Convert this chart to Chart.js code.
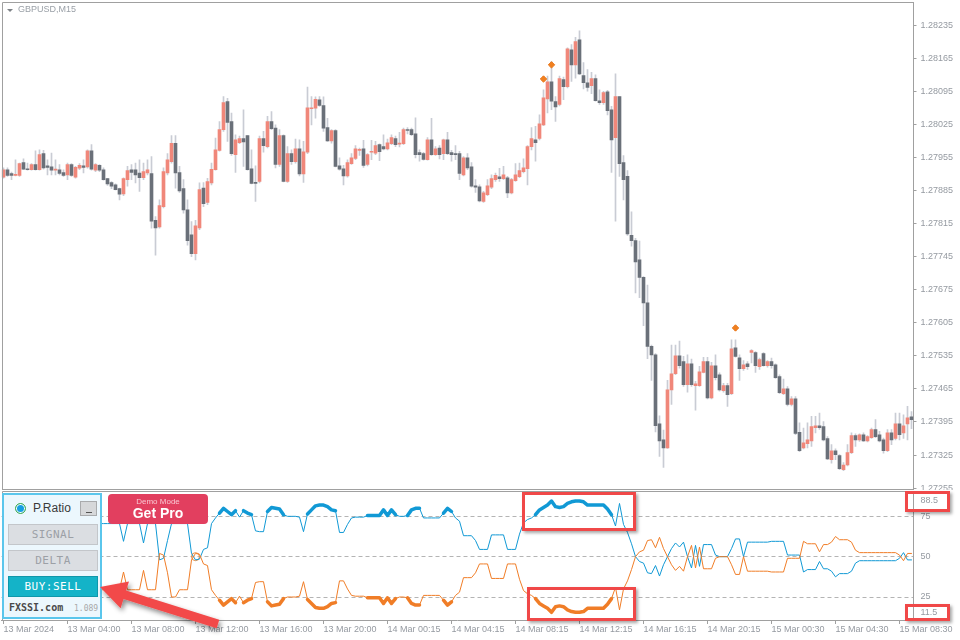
<!DOCTYPE html>
<html>
<head>
<meta charset="utf-8">
<title>GBPUSD,M15</title>
<script src="https://cdn.jsdelivr.net/npm/chart.js@4.4.1/dist/chart.umd.min.js"></script>
<style>
  html, body { margin: 0; padding: 0; background: #fff; }
  #wrap { position: relative; width: 960px; height: 640px; overflow: hidden; background: #fff;
          font-family: "Liberation Sans", Arial, sans-serif; }
  canvas { position: absolute; left: 0; }
  #main { top: 0; }
  #ind { top: 490px; background: #fff; }
  .abs { position: absolute; }
  #title { left: 18px; top: 4px; font-size: 9px; color: #9aa0a7; }
  #tri { left: 7px; top: 9px; width: 0; height: 0; border-left: 3px solid transparent;
         border-right: 3px solid transparent; border-top: 3px solid #7d8186; }
  #panel { left: 2px; top: 493px; width: 100px; height: 126px; box-sizing: border-box;
           border: 2px solid #5ac6ec; background: #ecf7fd; }
  #radio { left: 15px; top: 503px; width: 9px; height: 9px; border-radius: 50%;
           background: #159fe2; border: 1.5px solid #48b04c; box-shadow: inset 0 0 0 1px #fff; }
  #pname { left: 33px; top: 501px; font-size: 12px; color: #3a3a3a; }
  #mini { left: 80px; top: 501px; width: 17px; height: 15px; box-sizing: border-box;
          background: #d6d8da; border: 1px solid #a9abad; }
  #mini::after { content: ""; position: absolute; left: 5px; top: 10px; width: 6px; height: 1px; background: #555; }
  .btn { left: 8px; width: 90px; height: 21px; box-sizing: border-box; text-align: center;
         font: 11px "DejaVu Sans Mono", monospace; line-height: 19px; letter-spacing: 0.5px; }
  .off { background: #dbdee2; border: 1px solid #c3c6ca; color: #9ca0a6; }
  .on { background: #14b3c8; border: 1px solid #0f97aa; color: #fff; }
  #site { left: 9px; top: 602px; font: bold 10px "DejaVu Sans Mono", monospace; color: #4a4a4a; }
  #ver { left: 74px; top: 604px; font: 8px "DejaVu Sans Mono", monospace; color: #a8a8a8; }
  #pro { left: 108px; top: 494px; width: 100px; height: 30px; border-radius: 4px; background: #e23f5f;
         text-align: center; color: #fff; }
  #pro .demo { position: absolute; left: 0; right: 0; top: 3px; font-size: 8px; color: #f8c6d1; }
  #pro .get { position: absolute; left: 0; right: 0; top: 11px; font-size: 14px; font-weight: bold; }
  .mark { box-sizing: border-box; border: 3px solid #f04848; box-shadow: 2px 2px 3px rgba(0,0,0,0.35); }
</style>
</head>
<body>
<div id="wrap">
  <canvas id="main" width="960" height="500"></canvas>
  <canvas id="ind" width="960" height="150"></canvas>

  <div id="tri" class="abs"></div>
  <div id="title" class="abs">GBPUSD,M15</div>

  <div id="panel" class="abs"></div>
  <div id="radio" class="abs"></div>
  <div id="pname" class="abs">P.Ratio</div>
  <div id="mini" class="abs"></div>
  <div class="abs btn off" style="top:524px">SIGNAL</div>
  <div class="abs btn off" style="top:550px">DELTA</div>
  <div class="abs btn on" style="top:576px">BUY:SELL</div>
  <div id="site" class="abs">FXSSI.com</div>
  <div id="ver" class="abs">1.089</div>

  <div id="pro" class="abs"><div class="demo">Demo Mode</div><div class="get">Get Pro</div></div>

  <div class="abs mark" style="left:522px;top:492px;width:114px;height:39px"></div>
  <div class="abs mark" style="left:527px;top:587px;width:109px;height:34px"></div>
  <div class="abs mark" style="left:905px;top:491px;width:45px;height:21px"></div>
  <div class="abs mark" style="left:905px;top:604px;width:45px;height:17px"></div>

  <svg class="abs" style="left:0;top:0" width="960" height="640">
    <defs>
      <filter id="shadow" x="-20%" y="-20%" width="140%" height="160%">
        <feDropShadow dx="2" dy="3" stdDeviation="2.5" flood-color="#000" flood-opacity="0.45"/>
      </filter>
    </defs>
    <polygon filter="url(#shadow)" fill="#f24a4a"
      points="100,587 129,581.4 126.1,590.5 219.3,619.7 216.7,628.3 123.5,599.1 120.6,608.2"/>
  </svg>
</div>

<script>
// GBPUSD M15 candles
const opens = [
  1.27913,1.27929,1.27921,1.27917,1.27917,1.27944,1.27931,1.27929,1.27940,1.27929,
  1.27963,1.27937,1.27935,1.27928,1.27929,1.27923,1.27918,1.27940,1.27913,1.27932,
  1.27937,1.27935,1.27969,1.27928,1.27938,1.27929,1.27910,1.27902,1.27897,1.27889,
  1.27878,1.27908,1.27929,1.27929,1.27922,1.27912,1.27922,1.27921,1.27822,1.27808,
  1.27851,1.27922,1.27946,1.27985,1.27923,1.27889,1.27844,1.27791,1.27751,1.27806,
  1.27890,1.27860,1.27901,1.27929,1.27970,1.28014,1.28073,1.28031,1.27961,1.27986,
  1.27995,1.28001,1.27931,1.27902,1.27904,1.27995,1.27978,1.28031,1.28017,1.27940,
  1.28001,1.27904,1.27963,1.27946,1.27973,1.27920,1.27966,1.28058,1.28059,1.28077,
  1.28065,1.28018,1.27990,1.28012,1.27937,1.27931,1.27916,1.27942,1.27953,1.27970,
  1.27973,1.27940,1.27966,1.27964,1.27982,1.27978,1.27973,1.27984,1.27995,1.27983,
  1.27984,1.28014,1.28014,1.28005,1.27965,1.27963,1.27950,1.27992,1.27961,1.27975,
  1.27963,1.27992,1.27965,1.27963,1.27963,1.27918,1.27954,1.27935,1.27895,1.27893,
  1.27862,1.27876,1.27892,1.27908,1.27914,1.27910,1.27912,1.27880,1.27906,1.27914,
  1.27925,1.27931,1.27978,1.27992,1.27995,1.28024,1.28079,1.28115,1.28073,1.28067,
  1.28120,1.28105,1.28183,1.28151,1.28204,1.28128,1.28113,1.28107,1.28122,1.28075,
  1.28071,1.28094,1.28056,1.27997,1.28084,1.27944,1.27915,1.27790,1.27779,1.27738,
  1.27701,1.27647,1.27555,1.27537,1.27391,1.27357,1.27340,1.27463,1.27497,1.27535,
  1.27523,1.27474,1.27518,1.27472,1.27472,1.27500,1.27523,1.27446,1.27514,1.27495,
  1.27461,1.27472,1.27455,1.27552,1.27531,1.27508,1.27518,1.27542,1.27542,1.27512,
  1.27540,1.27514,1.27523,1.27516,1.27491,1.27455,1.27465,1.27432,1.27444,1.27373,
  1.27340,1.27349,1.27355,1.27383,1.27387,1.27385,1.27360,1.27315,1.27334,1.27324,
  1.27294,1.27304,1.27330,1.27366,1.27357,1.27368,1.27355,1.27362,1.27379,1.27368,
  1.27357,1.27334,1.27372,1.27360,1.27391,1.27372,1.27391,1.27406
];
const highs = [
  1.27933,1.27933,1.27924,1.27950,1.27943,1.27952,1.27943,1.27942,1.27969,1.27971,
  1.27970,1.27950,1.27964,1.27950,1.27940,1.27929,1.27943,1.27942,1.27936,1.27942,
  1.27950,1.27971,1.27982,1.27942,1.27940,1.27933,1.27911,1.27904,1.27899,1.27890,
  1.27912,1.27936,1.27940,1.27943,1.27950,1.27943,1.27950,1.27957,1.27830,1.27865,
  1.27933,1.27963,1.28001,1.28001,1.27936,1.27908,1.27865,1.27819,1.27822,1.27901,
  1.27902,1.27911,1.27943,1.27996,1.28031,1.28084,1.28080,1.28049,1.28003,1.28000,
  1.28056,1.28001,1.27971,1.27937,1.28000,1.28010,1.28042,1.28052,1.28024,1.28014,
  1.28003,1.27978,1.27971,1.27994,1.27992,1.27989,1.28104,1.28084,1.28083,1.28084,
  1.28083,1.28038,1.28014,1.28014,1.27954,1.27938,1.27950,1.27963,1.27980,1.27975,
  1.27991,1.27963,1.27991,1.27989,1.27984,1.28003,1.27994,1.28003,1.28000,1.28008,
  1.28017,1.28018,1.28017,1.28039,1.27971,1.27966,1.27997,1.28038,1.27978,1.27980,
  1.27994,1.28008,1.27970,1.27980,1.27968,1.27957,1.27963,1.27944,1.27908,1.27897,
  1.27883,1.27908,1.27918,1.27922,1.27932,1.27936,1.27915,1.27911,1.27942,1.27943,
  1.27952,1.27980,1.28018,1.28021,1.28045,1.28098,1.28127,1.28158,1.28084,1.28127,
  1.28125,1.28187,1.28194,1.28209,1.28223,1.28156,1.28141,1.28135,1.28130,1.28098,
  1.28095,1.28097,1.28063,1.28132,1.28084,1.27959,1.27927,1.27840,1.27784,1.27778,
  1.27703,1.27685,1.27558,1.27540,1.27408,1.27378,1.27483,1.27558,1.27558,1.27566,
  1.27534,1.27537,1.27528,1.27481,1.27513,1.27532,1.27532,1.27521,1.27537,1.27499,
  1.27477,1.27477,1.27569,1.27569,1.27537,1.27525,1.27523,1.27548,1.27544,1.27530,
  1.27542,1.27525,1.27530,1.27518,1.27495,1.27486,1.27470,1.27449,1.27449,1.27393,
  1.27382,1.27393,1.27407,1.27407,1.27414,1.27396,1.27364,1.27347,1.27338,1.27326,
  1.27309,1.27347,1.27372,1.27370,1.27370,1.27372,1.27366,1.27382,1.27400,1.27375,
  1.27361,1.27379,1.27379,1.27414,1.27414,1.27410,1.27428,1.27417
];
const lows = [
  1.27911,1.27915,1.27908,1.27916,1.27915,1.27929,1.27928,1.27928,1.27928,1.27928,
  1.27930,1.27918,1.27918,1.27918,1.27918,1.27915,1.27908,1.27915,1.27911,1.27929,
  1.27922,1.27932,1.27928,1.27925,1.27925,1.27907,1.27896,1.27889,1.27886,1.27865,
  1.27874,1.27894,1.27908,1.27901,1.27883,1.27908,1.27918,1.27805,1.27748,1.27805,
  1.27848,1.27918,1.27943,1.27890,1.27881,1.27837,1.27769,1.27745,1.27738,1.27802,
  1.27851,1.27855,1.27897,1.27928,1.27968,1.28010,1.27989,1.27959,1.27923,1.27984,
  1.27936,1.27928,1.27899,1.27862,1.27901,1.27966,1.27975,1.28014,1.27933,1.27936,
  1.27903,1.27902,1.27940,1.27943,1.27916,1.27902,1.27963,1.28024,1.28038,1.28063,
  1.28010,1.27989,1.27985,1.27935,1.27928,1.27897,1.27913,1.27940,1.27950,1.27959,
  1.27934,1.27937,1.27950,1.27961,1.27948,1.27971,1.27971,1.27982,1.27978,1.27977,
  1.27982,1.28005,1.28001,1.27954,1.27947,1.27949,1.27949,1.27959,1.27959,1.27952,
  1.27950,1.27961,1.27947,1.27950,1.27908,1.27916,1.27929,1.27892,1.27881,1.27861,
  1.27860,1.27874,1.27889,1.27904,1.27904,1.27908,1.27870,1.27878,1.27904,1.27912,
  1.27922,1.27897,1.27971,1.27947,1.27992,1.28022,1.28049,1.28056,1.28031,1.28064,
  1.28077,1.28102,1.28116,1.28123,1.28130,1.28100,1.28095,1.28090,1.28074,1.28067,
  1.28067,1.28045,1.27923,1.27820,1.27915,1.27865,1.27790,1.27767,1.27668,1.27658,
  1.27599,1.27529,1.27483,1.27374,1.27322,1.27299,1.27339,1.27432,1.27495,1.27509,
  1.27470,1.27458,1.27470,1.27420,1.27470,1.27499,1.27444,1.27444,1.27484,1.27460,
  1.27458,1.27428,1.27453,1.27532,1.27483,1.27504,1.27506,1.27520,1.27500,1.27506,
  1.27513,1.27511,1.27509,1.27487,1.27455,1.27453,1.27429,1.27429,1.27368,1.27332,
  1.27338,1.27340,1.27343,1.27372,1.27379,1.27355,1.27315,1.27308,1.27315,1.27294,
  1.27292,1.27302,1.27328,1.27343,1.27354,1.27354,1.27353,1.27360,1.27362,1.27353,
  1.27329,1.27332,1.27347,1.27357,1.27357,1.27360,1.27357,1.27381
];
const closes = [
  1.27929,1.27917,1.27917,1.27918,1.27942,1.27930,1.27929,1.27940,1.27929,1.27961,
  1.27933,1.27934,1.27928,1.27929,1.27921,1.27917,1.27940,1.27917,1.27934,1.27938,
  1.27934,1.27969,1.27930,1.27940,1.27928,1.27908,1.27899,1.27894,1.27887,1.27877,
  1.27910,1.27927,1.27923,1.27918,1.27912,1.27925,1.27929,1.27820,1.27806,1.27853,
  1.27925,1.27950,1.27985,1.27922,1.27884,1.27844,1.27779,1.27751,1.27810,1.27887,
  1.27857,1.27904,1.27930,1.27971,1.28014,1.28071,1.28029,1.27963,1.27992,1.27995,
  1.27988,1.27929,1.27900,1.27900,1.27995,1.27980,1.28031,1.28016,1.27940,1.28001,
  1.27904,1.27963,1.27946,1.27973,1.27920,1.27967,1.28060,1.28060,1.28078,1.28065,
  1.28017,1.27990,1.28012,1.27936,1.27930,1.27916,1.27944,1.27954,1.27973,1.27971,
  1.27938,1.27961,1.27967,1.27980,1.27967,1.27973,1.27986,1.27997,1.27982,1.27984,
  1.28014,1.28012,1.28003,1.27961,1.27961,1.27951,1.27992,1.27961,1.27973,1.27961,
  1.27992,1.27963,1.27961,1.27961,1.27921,1.27954,1.27933,1.27894,1.27892,1.27863,
  1.27880,1.27895,1.27910,1.27917,1.27910,1.27918,1.27880,1.27908,1.27918,1.27927,
  1.27933,1.27978,1.27995,1.27986,1.28026,1.28081,1.28115,1.28074,1.28062,1.28122,
  1.28105,1.28185,1.28151,1.28200,1.28132,1.28113,1.28103,1.28122,1.28075,1.28071,
  1.28092,1.28054,1.27992,1.28084,1.27942,1.27908,1.27793,1.27779,1.27734,1.27701,
  1.27647,1.27555,1.27537,1.27387,1.27355,1.27340,1.27463,1.27497,1.27535,1.27514,
  1.27474,1.27518,1.27474,1.27476,1.27501,1.27523,1.27446,1.27514,1.27489,1.27463,
  1.27472,1.27453,1.27550,1.27534,1.27508,1.27516,1.27512,1.27546,1.27514,1.27527,
  1.27514,1.27523,1.27514,1.27489,1.27457,1.27465,1.27432,1.27444,1.27371,1.27334,
  1.27351,1.27357,1.27385,1.27387,1.27383,1.27357,1.27317,1.27334,1.27326,1.27296,
  1.27304,1.27330,1.27366,1.27357,1.27368,1.27355,1.27364,1.27379,1.27364,1.27355,
  1.27334,1.27372,1.27357,1.27391,1.27368,1.27387,1.27404,1.27400
];

// orange diamond signals above the candles
const signalBars = [135, 137, 183];
const signalPrices = [1.28121, 1.28151, 1.27594];

// price axis ticks
const priceTicks = [1.27255, 1.27325, 1.27395, 1.27465, 1.27535, 1.27605, 1.27675, 1.27745,
                    1.27815, 1.27885, 1.27955, 1.28025, 1.28095, 1.28165, 1.28235];

// P.Ratio indicator: buy % (blue) and sell % (orange), one value per bar
const buyRatio = [
  70.5,70.5,70.5,70.5,70.5,70.5,70.5,70.5,70.5,70.5,
  70.5,70.5,70.5,70.5,70.5,70.5,70.5,70.5,70.5,70.5,
  70.5,70.5,70.5,70.5,70.5,70.5,70.5,70.5,70.5,70.5,
  59.5,70.5,70.5,70.5,70.5,58.5,70.5,70.5,70.5,48,
  49,60,70.5,70.5,70.5,70.5,70.5,52,48,48.5,
  54.5,55.5,70.5,74,77,80,78,76,78.5,74.5,
  78.5,77,76,66,65.5,65.5,78,80.5,80,79.5,
  76,75,75,75,74.5,65.5,76.5,79,81.5,82,
  82,81,79,78.5,65,65,70,74,74.5,74.5,
  74.5,75.5,75.5,75.5,75.5,79,75.5,79,76,75,
  75,75.5,79,80,80,74,74,74,74,74,
  77,80,78,74,72,63,63,63,60,54.5,
  54.5,54.5,63.5,63.5,63.5,63.5,54.5,54.5,54.5,64,
  71,73,74,76,79,80.5,82,84.5,81,80.5,
  81,83,84,84.5,84.5,84,82,82,82,82,
  82,79.5,76,69,83,70,65,58,50,47,
  46,40,39.5,44.5,38,45,50,55,58.5,56,
  59,50,43,57,44,57.5,57.5,57.5,51,50,
  50,50,55,61,61,50,59,59,59,59,
  59,59,59.5,59.5,59.5,59.5,51,51,51,51,
  40.5,42,42,42,47,42.5,42.5,41,37.5,39.5,
  39.5,39.5,41,46,47.5,47.5,47.5,47.5,47.5,47.5,
  47.5,47.5,47.5,47.5,49,52.5,48,48
];
const sellRatio = [
  29.5,29.5,29.5,29.5,29.5,29.5,29.5,29.5,29.5,29.5,
  29.5,29.5,29.5,29.5,29.5,29.5,29.5,29.5,29.5,29.5,
  29.5,29.5,29.5,29.5,29.5,29.5,29.5,29.5,29.5,29.5,
  40.5,29.5,29.5,29.5,29.5,41.5,29.5,29.5,29.5,52,
  51,40,25,25,29.5,29.5,29.5,48,52,51.5,
  45.5,44.5,29.5,26,23,20,22,24,21.5,25.5,
  21.5,23,24,34,34.5,34.5,22,19.5,20,20.5,
  24,25,25,25,25.5,34.5,23.5,21,18.5,18,
  18,19,21,21.5,35,35,30,26,25.5,25.5,
  25.5,24.5,24.5,24.5,24.5,21,24.5,21,24,25,
  25,24.5,21,20,20,26,26,26,26,26,
  23,20,22,26,28,37,37,37,40,45.5,
  45.5,45.5,36.5,36.5,36.5,36.5,45.5,45.5,45.5,36,
  29,27,26,24,21,19.5,18,15.5,19,19.5,
  19,17,16,15.5,15.5,16,18,18,18,18,
  18,20.5,24,31,17,30,35,42,50,53,
  54,60,60.5,55.5,62,55,50,45,41.5,44,
  41,50,57,43,56,42.5,42.5,42.5,49,50,
  50,50,45,39,39,50,41,41,41,41,
  41,41,40.5,40.5,40.5,40.5,49,49,49,49,
  59.5,58,58,58,53,57.5,57.5,59,62.5,60.5,
  60.5,60.5,59,54,52.5,52.5,52.5,52.5,52.5,52.5,
  52.5,52.5,52.5,52.5,51,47.5,52,52
];
const crossBars = [48];
const crossValues = [50];
const ratioLevels = [25, 50, 75];
const ratioRange = [11.5, 88.5];

// bar times: M15 from 13 Mar 2024, the midnight bars of 14 and 15 Mar are missing
const pad = n => String(n).padStart(2, '0');
const times = [];
let t = Date.UTC(2024, 2, 13, 0, 0);
while (times.length < opens.length) {
  const d = new Date(t);
  const skip = d.getUTCDate() > 13 && d.getUTCHours() === 0 && d.getUTCMinutes() === 0;
  if (!skip) times.push(d.getUTCDate() + ' Mar ' + pad(d.getUTCHours()) + ':' + pad(d.getUTCMinutes()));
  t += 15 * 60000;
}

const BULL = '#f0877a', BEAR = '#6a7079', WICK = '#c9ccd4';
const AXIS = '#a0a0a0', AXIS_TEXT = '#959aa1';
const axisFont = { family: '"Liberation Sans", Arial, sans-serif', size: 9 };

Chart.defaults.font.family = '"Liberation Sans", Arial, sans-serif';

// thin gray frame round the plot area (MT4 style)
const frame = {
  id: 'frame',
  afterDraw(chart, args, opts) {
    const { ctx, chartArea: a } = chart;
    const x = Math.round(a.left) + 0.5, y = Math.round(a.top) + 0.5;
    ctx.save();
    ctx.strokeStyle = AXIS;
    ctx.lineWidth = 1;
    ctx.beginPath();
    ctx.moveTo(x, a.bottom);
    ctx.lineTo(x, y);
    ctx.lineTo(a.right, y);
    if (opts.bottom) {
      ctx.moveTo(x, Math.round(a.bottom) - 0.5);
      ctx.lineTo(a.right, Math.round(a.bottom) - 0.5);
    }
    ctx.stroke();
    ctx.restore();
  }
};

// keep the plot area where MT4 puts it: no extra room for edge tick labels
function fixWidth(s) {
  s.width = 46.5;
  s.paddingTop = 0;
  s.paddingBottom = 0;
}

const signalData = opens.map((_, i) => {
  const k = signalBars.indexOf(i);
  return k >= 0 ? signalPrices[k] : null;
});

new Chart(document.getElementById('main'), {
  type: 'bar',
  data: {
    labels: times,
    datasets: [
      {
        label: 'wick',
        data: lows.map((l, i) => [l, highs[i]]),
        backgroundColor: WICK,
        barThickness: 1,
        grouped: false,
        order: 2
      },
      {
        label: 'body',
        data: opens.map((o, i) => [o, closes[i]]),
        backgroundColor: opens.map((o, i) => closes[i] >= o ? BULL : BEAR),
        barThickness: 3,
        minBarLength: 1,
        grouped: false,
        order: 1
      },
      {
        type: 'line',
        label: 'signal',
        data: signalData,
        showLine: false,
        pointStyle: 'rectRot',
        pointRadius: 3.2,
        backgroundColor: '#f0801f',
        borderColor: '#e8761a',
        borderWidth: 1,
        order: 0
      }
    ]
  },
  options: {
    responsive: false,
    animation: false,
    devicePixelRatio: 1,
    events: [],
    layout: { autoPadding: false, padding: { left: 1.5, top: 2, right: 0, bottom: 10 } },
    plugins: { legend: { display: false }, tooltip: { enabled: false }, frame: { bottom: true } },
    scales: {
      x: { display: false, offset: true },
      y: {
        position: 'right',
        min: 1.27251,
        max: 1.28284,
        afterFit: fixWidth,
        afterBuildTicks(s) { s.ticks = priceTicks.map(v => ({ value: v })); },
        ticks: { callback: v => v.toFixed(5), color: AXIS_TEXT, font: axisFont, padding: 4 },
        grid: { drawOnChartArea: false, tickLength: 3, color: AXIS },
        border: { color: AXIS }
      }
    }
  },
  plugins: [frame]
});

// max / min labels of the indicator window
const edgeLabels = {
  id: 'edgeLabels',
  afterDraw(chart) {
    const { ctx, chartArea: a } = chart;
    ctx.save();
    ctx.font = '9px "Liberation Sans", Arial, sans-serif';
    ctx.fillStyle = AXIS_TEXT;
    ctx.textBaseline = 'middle';
    ctx.fillText(ratioRange[1].toFixed(1), a.right + 7, a.top + 9.5);
    ctx.fillText(ratioRange[0].toFixed(1), a.right + 7, a.bottom - 7);
    ctx.restore();
  }
};

const crossData = buyRatio.map((_, i) => {
  const k = crossBars.indexOf(i);
  return k >= 0 ? crossValues[k] : null;
});

new Chart(document.getElementById('ind'), {
  type: 'line',
  data: {
    labels: times,
    datasets: [
      {
        label: 'Sell',
        data: sellRatio,
        borderColor: '#f07d27',
        borderWidth: 1,
        pointRadius: 0,
        borderCapStyle: 'round',
        borderJoinStyle: 'round',
        segment: { borderWidth: c => (c.p0.parsed.y < 25 && c.p1.parsed.y < 25) ? 3.5 : 1 }
      },
      {
        label: 'Buy',
        data: buyRatio,
        borderColor: '#1199d5',
        borderWidth: 1,
        pointRadius: 0,
        borderCapStyle: 'round',
        borderJoinStyle: 'round',
        segment: { borderWidth: c => (c.p0.parsed.y > 75 && c.p1.parsed.y > 75) ? 3.5 : 1 }
      },
      {
        label: 'cross',
        data: crossData,
        showLine: false,
        pointStyle: 'circle',
        pointRadius: 4,
        borderColor: '#e58b3f',
        backgroundColor: 'rgba(0,0,0,0)',
        borderWidth: 1
      }
    ]
  },
  options: {
    responsive: false,
    animation: false,
    devicePixelRatio: 1,
    events: [],
    layout: { autoPadding: false, padding: { left: 1.5, top: 1, right: 0, bottom: 0 } },
    plugins: { legend: { display: false }, tooltip: { enabled: false }, frame: { bottom: false } },
    scales: {
      x: {
        offset: true,
        afterFit(s) { s.height = 20; s.paddingLeft = 0; s.paddingRight = 0; },
        afterBuildTicks(s) { s.ticks = s.ticks.filter(tk => tk.value % 16 === 0); },
        ticks: {
          autoSkip: false, maxRotation: 0, minRotation: 0, align: 'start', padding: 0,
          color: AXIS_TEXT, font: axisFont,
          callback: v => v === 0 ? '13 Mar 2024' : times[v]
        },
        grid: { drawOnChartArea: false, offset: false, tickLength: 4, color: AXIS },
        border: { color: AXIS }
      },
      y: {
        position: 'right',
        min: 10.75,
        max: 90.7,
        afterFit: fixWidth,
        afterBuildTicks(s) { s.ticks = ratioLevels.map(v => ({ value: v })); },
        ticks: { color: AXIS_TEXT, font: axisFont, padding: 7 },
        grid: { drawTicks: false, color: '#b4b4b4' },
        border: { color: AXIS, dash: [4, 3] }
      }
    }
  },
  plugins: [frame, edgeLabels]
});
</script>
</body>
</html>
